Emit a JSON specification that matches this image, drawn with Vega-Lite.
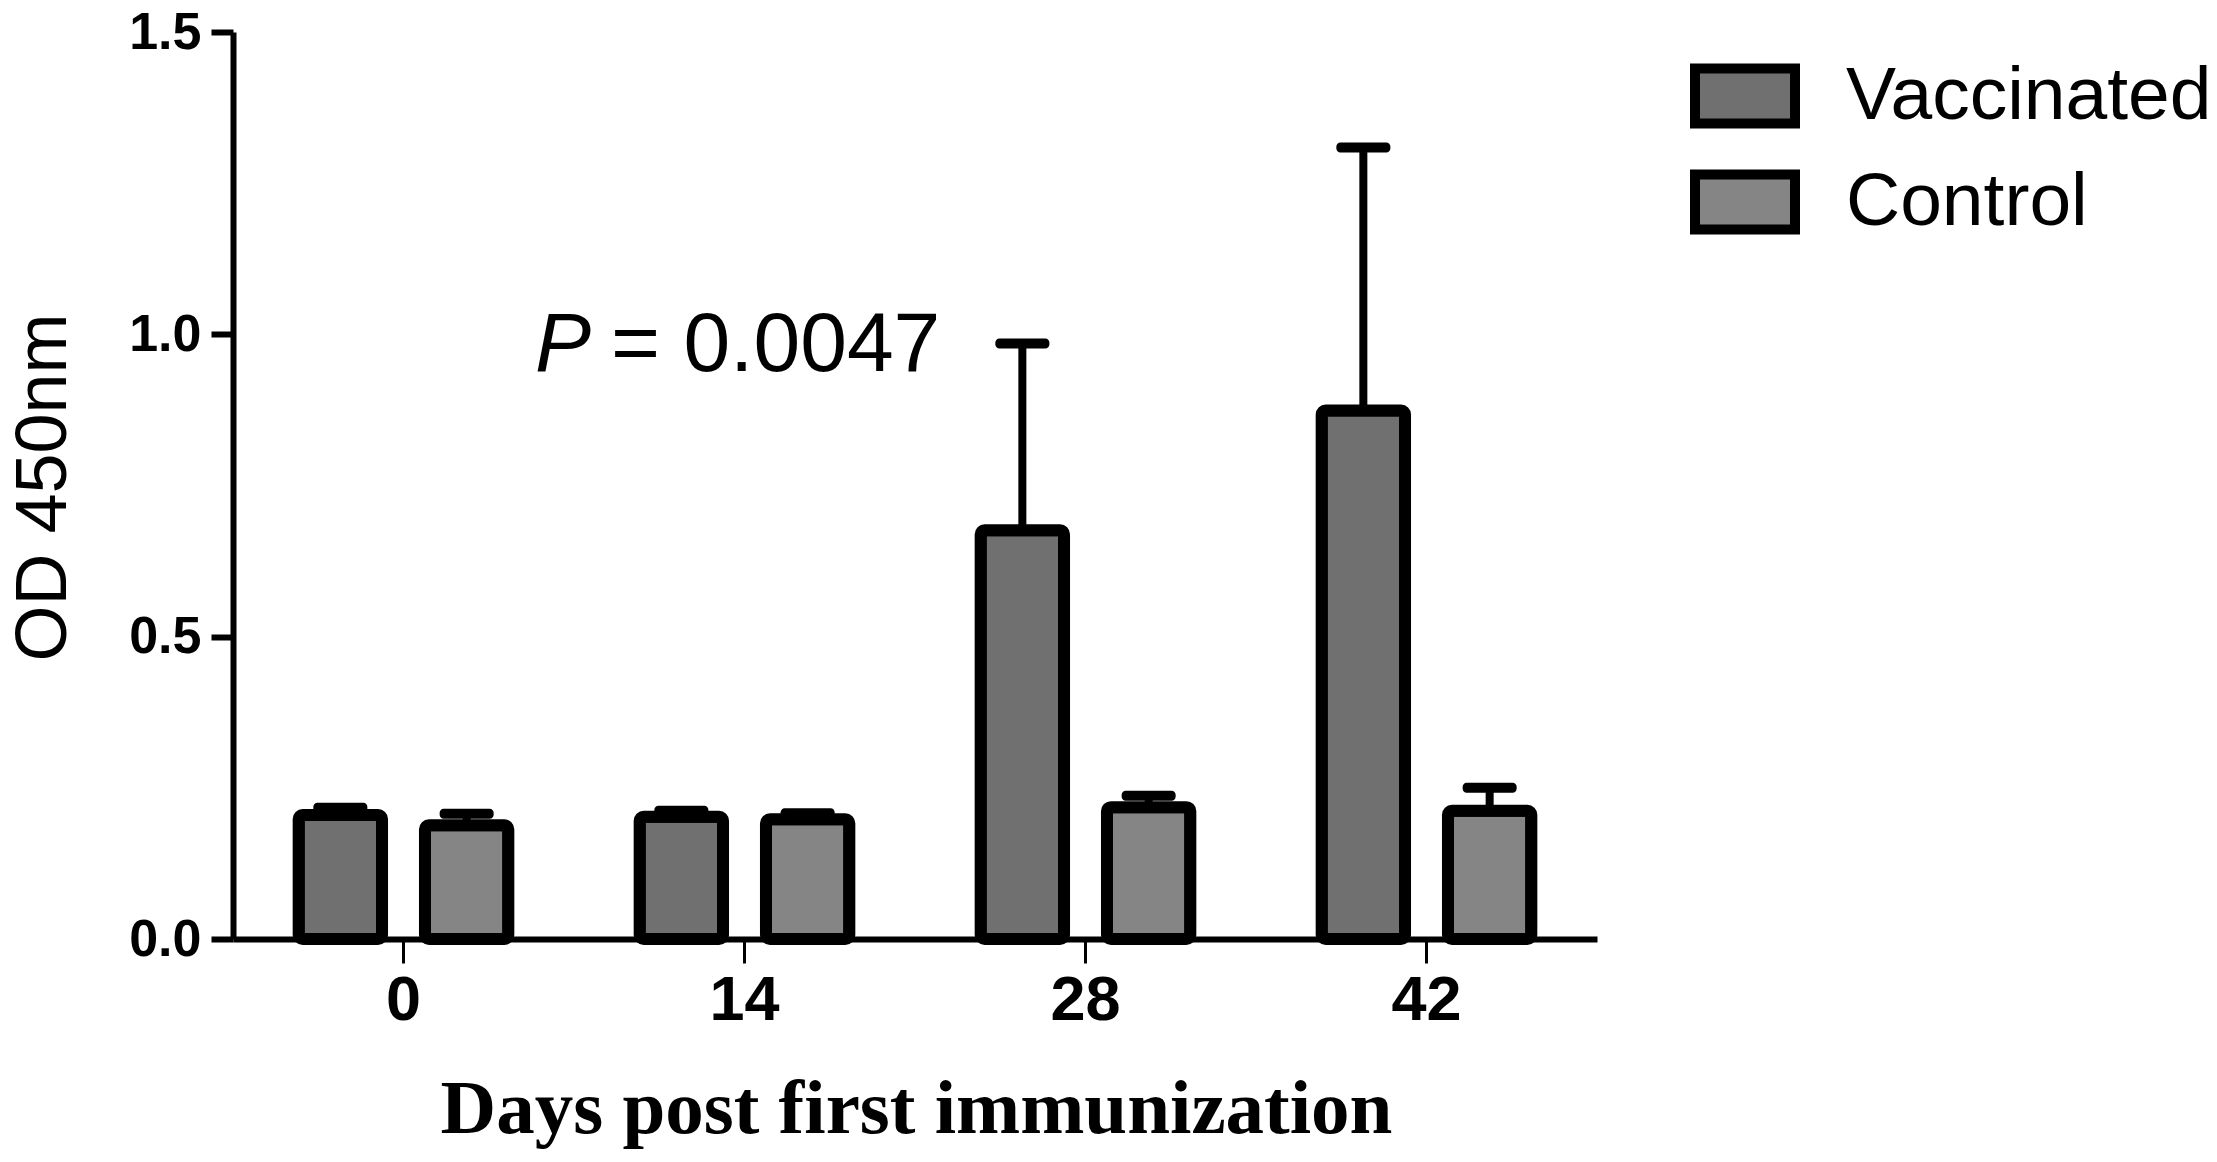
{
  "$schema": "https://vega.github.io/schema/vega-lite/v6.json",
  "autosize": {"type": "none"},
  "padding": {"left": 233, "top": 32, "right": 620, "bottom": 223},
  "width": 1364,
  "height": 907,
  "background": "white",
  "data": {
    "values": [
      {"day": "0", "group": "Vaccinated", "mean": 0.205, "upper": 0.217},
      {"day": "0", "group": "Control", "mean": 0.188, "upper": 0.207},
      {"day": "14", "group": "Vaccinated", "mean": 0.202, "upper": 0.212},
      {"day": "14", "group": "Control", "mean": 0.198, "upper": 0.208},
      {"day": "28", "group": "Vaccinated", "mean": 0.676, "upper": 0.985},
      {"day": "28", "group": "Control", "mean": 0.218, "upper": 0.237},
      {"day": "42", "group": "Vaccinated", "mean": 0.874, "upper": 1.309},
      {"day": "42", "group": "Control", "mean": 0.212, "upper": 0.25}
    ]
  },
  "encoding": {
    "x": {
      "field": "day", "type": "nominal", "sort": ["0", "14", "28", "42"],
      "scale": {"paddingInner": 0, "paddingOuter": 0},
      "title": "Days post first immunization"
    },
    "xOffset": {
      "field": "group", "type": "nominal", "sort": ["Vaccinated", "Control"],
      "scale": {"paddingInner": 0.34, "paddingOuter": 0.52}
    },
    "y": {
      "field": "mean", "type": "quantitative",
      "scale": {"domain": [0, 1.5], "nice": false, "zero": true},
      "title": "OD 450nm"
    }
  },
  "layer": [
    {
      "mark": {"type": "rule", "stroke": "black", "strokeWidth": 8, "strokeCap": "butt"},
      "encoding": {
        "y": {"field": "upper", "type": "quantitative"},
        "y2": {"field": "mean"}
      }
    },
    {
      "mark": {"type": "tick", "color": "black", "thickness": 10, "size": 54, "opacity": 1, "cornerRadius": 4},
      "encoding": {
        "y": {"field": "upper", "type": "quantitative"}
      }
    },
    {
      "mark": {"type": "bar", "stroke": "black", "strokeWidth": 12, "cornerRadius": 4, "strokeJoin": "round"},
      "encoding": {
        "fill": {
          "field": "group", "type": "nominal", "sort": ["Vaccinated", "Control"],
          "scale": {"domain": ["Vaccinated", "Control"], "range": ["#707070", "#858585"]},
          "legend": {
            "title": null, "orient": "none", "legendX": 1457, "legendY": 9,
            "symbolType": "M-1,-0.55H1V0.55H-1Z", "symbolSize": 10000, "symbolStrokeColor": "black", "symbolStrokeWidth": 10, "symbolOpacity": 1,
            "labelFont": "Liberation Sans", "labelFontSize": 75, "labelColor": "black", "labelOffset": 46, "rowPadding": 3, "padding": 0,
            "labelLimit": 600
          }
        }
      }
    },
    {
      "data": {"values": [{"day": "14", "y": 0.94, "t": "P"}]},
      "mark": {"type": "text", "font": "Liberation Sans", "fontSize": 84, "fontStyle": "italic", "align": "left", "baseline": "alphabetic", "dx": -39, "color": "black"},
      "encoding": {
        "x": {"field": "day", "type": "nominal"},
        "xOffset": {"value": 0},
        "y": {"field": "y", "type": "quantitative"},
        "text": {"field": "t"}
      }
    },
    {
      "data": {"values": [{"day": "14", "y": 0.94, "t": "= 0.0047"}]},
      "mark": {"type": "text", "font": "Liberation Sans", "fontSize": 84, "align": "left", "baseline": "alphabetic", "dx": 37, "color": "black"},
      "encoding": {
        "x": {"field": "day", "type": "nominal"},
        "xOffset": {"value": 0},
        "y": {"field": "y", "type": "quantitative"},
        "text": {"field": "t"}
      }
    }
  ],
  "config": {
    "view": {"stroke": null},
    "axis": {
      "domainColor": "black", "domainWidth": 6, "tickColor": "black", "labelColor": "black", "titleColor": "black", "grid": false,
      "labelFont": "Liberation Sans", "labelFontWeight": "bold"
    },
    "axisX": {
      "titleFont": "Liberation Serif", "titleFontSize": 77, "titleFontWeight": "bold",
      "titleX": 683, "titleY": 170, "titleBaseline": "middle", "titleAlign": "center",
      "labelAngle": 0, "labelFontSize": 63, "labelPadding": 6,
      "tickWidth": 3, "tickSize": 24
    },
    "axisY": {
      "titleFont": "Liberation Sans", "titleFontSize": 72, "titleFontWeight": "normal",
      "titleX": -190, "titleY": 455, "titleAngle": -90, "titleAlign": "center", "titleBaseline": "middle",
      "tickCount": 3, "format": ".1f",
      "labelFontSize": 52, "labelPadding": 10,
      "tickWidth": 6, "tickSize": 22
    }
  }
}
